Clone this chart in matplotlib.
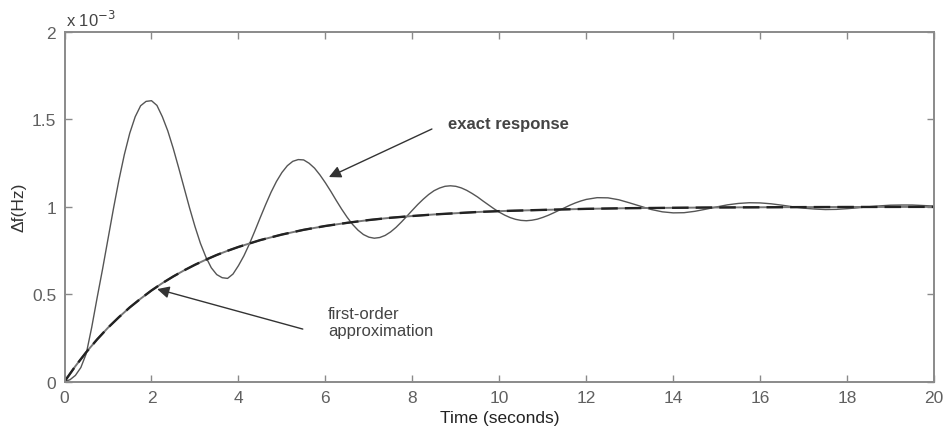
import matplotlib
matplotlib.use("Agg")
import matplotlib.pyplot as plt

# Data (values in units of 1e-3 Hz)
t_exact = [0, 0.125, 0.25, 0.375, 0.5, 0.625, 0.75, 0.875, 1.0, 1.125, 1.25, 1.375, 1.5, 1.625, 1.75, 1.875,
           2.0, 2.125, 2.25, 2.375, 2.5, 2.625, 2.75, 2.875, 3.0, 3.125, 3.25, 3.375, 3.5, 3.625, 3.75, 3.875,
           4.0, 4.125, 4.25, 4.375, 4.5, 4.625, 4.75, 4.875, 5.0, 5.125, 5.25, 5.375, 5.5, 5.625, 5.75, 5.875,
           6.0, 6.125, 6.25, 6.375, 6.5, 6.625, 6.75, 6.875, 7.0, 7.125, 7.25, 7.375, 7.5, 7.625, 7.75, 7.875,
           8.0, 8.125, 8.25, 8.375, 8.5, 8.625, 8.75, 8.875, 9.0, 9.125, 9.25, 9.375, 9.5, 9.625, 9.75, 9.875,
           10.0, 10.125, 10.25, 10.375, 10.5, 10.625, 10.75, 10.875, 11.0, 11.125, 11.25, 11.375, 11.5, 11.625, 11.75, 11.875,
           12.0, 12.25, 12.5, 12.75, 13.0, 13.25, 13.5, 13.75, 14.0, 14.25, 14.5, 14.75, 15.0, 15.25, 15.5, 15.75,
           16.0, 16.25, 16.5, 16.75, 17.0, 17.25, 17.5, 17.75, 18.0, 18.25, 18.5, 18.75, 19.0, 19.25, 19.5, 19.75, 20.0]
exact_response = [0.0, 0.01, 0.035, 0.08, 0.16, 0.31, 0.48, 0.644, 0.817, 0.989, 1.152, 1.298, 1.421, 1.515, 1.578, 1.603,
                  1.607, 1.580, 1.515, 1.434, 1.334, 1.223, 1.109, 0.994, 0.887, 0.791, 0.713, 0.651, 0.612, 0.594, 0.590, 0.615,
                  0.663, 0.719, 0.786, 0.860, 0.937, 1.012, 1.083, 1.145, 1.196, 1.235, 1.260, 1.270, 1.268, 1.249, 1.221, 1.182,
                  1.137, 1.088, 1.036, 0.986, 0.940, 0.899, 0.866, 0.841, 0.826, 0.820, 0.824, 0.836, 0.856, 0.882, 0.913, 0.946,
                  0.980, 1.013, 1.043, 1.070, 1.092, 1.107, 1.117, 1.120, 1.117, 1.108, 1.094, 1.076, 1.056, 1.033, 1.011, 0.989,
                  0.969, 0.952, 0.938, 0.928, 0.922, 0.920, 0.923, 0.929, 0.939, 0.951, 0.965, 0.980, 0.994, 1.009, 1.022, 1.033,
                  1.042, 1.052, 1.051, 1.040, 1.022, 1.003, 0.984, 0.971, 0.965, 0.966, 0.974, 0.986, 0.999, 1.011, 1.019, 1.023,
                  1.022, 1.017, 1.009, 1.000, 0.992, 0.987, 0.984, 0.985, 0.989, 0.994, 1.000, 1.005, 1.009, 1.010, 1.010, 1.007, 1.004]

t_first = [0, 0.25, 0.5, 0.75, 1.0, 1.25, 1.5, 1.75, 2.0, 2.25, 2.5, 2.75, 3.0, 3.25, 3.5, 3.75, 4.0, 4.5, 5.0, 5.5,
           6.0, 6.5, 7.0, 7.5, 8.0, 8.5, 9.0, 9.5, 10, 11, 12, 13, 14, 15, 16, 17, 18, 19, 20]
first_order = [0.0, 0.088, 0.168, 0.241, 0.308, 0.368, 0.424, 0.474, 0.521, 0.563, 0.601, 0.636, 0.668, 0.697, 0.724, 0.748,
               0.770, 0.809, 0.841, 0.868, 0.890, 0.908, 0.924, 0.937, 0.947, 0.956, 0.963, 0.970, 0.975, 0.982, 0.988,
               0.992, 0.994, 0.996, 0.997, 0.998, 0.9987, 0.999, 0.9994]

x_ticks = [0, 2, 4, 6, 8, 10, 12, 14, 16, 18, 20]
y_ticks = [0, 0.5, 1, 1.5, 2]
y_tick_labels = ["0", "0.5", "1", "1.5", "2"]

plt.rcParams['font.family'] = ['Liberation Sans', 'DejaVu Sans']

fig = plt.figure(figsize=(9.45, 4.39), dpi=100)
ax = fig.add_axes([0.0683, 0.1287, 0.9201, 0.7961])

ax.plot(t_exact, exact_response, color='#555555', lw=1.0)
ax.plot(t_first, first_order, color='#777777', lw=1.4)
ax.plot(t_first, first_order, color='#222222', lw=1.7, dashes=(7, 3))

ax.set_xlim(0, 20)
ax.set_ylim(0, 2)
ax.set_xticks(x_ticks)
ax.set_yticks(y_ticks)
ax.set_yticklabels(y_tick_labels)

for s in ax.spines.values():
    s.set_color('#8a8a8a')
    s.set_linewidth(1.4)
ax.tick_params(direction='in', length=5, width=1.0, color='#8a8a8a',
               labelcolor='#606060', labelsize=12.5, top=True, right=True, pad=6)

ax.set_xlabel('Time (seconds)', fontsize=12.5, color='#222222', labelpad=4)
ax.set_ylabel('Δf(Hz)', fontsize=12.5, color='#333333', labelpad=4)

ax.text(0.002, 1.01, 'x 10$^{-3}$', transform=ax.transAxes, fontsize=12,
        color='#444444', ha='left', va='bottom')

ax.annotate('', xy=(6.08, 1.17), xytext=(8.45, 1.445),
            arrowprops=dict(arrowstyle='-|>', color='#333333', lw=1.0,
                            mutation_scale=18, shrinkA=0, shrinkB=0))
ax.text(8.82, 1.474, 'exact response', fontsize=12, color='#444444',
        ha='left', va='center', fontweight='bold')

ax.annotate('', xy=(2.13, 0.529), xytext=(5.48, 0.30),
            arrowprops=dict(arrowstyle='-|>', color='#333333', lw=1.0,
                            mutation_scale=18, shrinkA=0, shrinkB=0))
ax.text(6.06, 0.34, 'first-order\napproximation', fontsize=12, color='#444444',
        ha='left', va='center', linespacing=1.2)

fig.savefig('out.png', dpi=100)
